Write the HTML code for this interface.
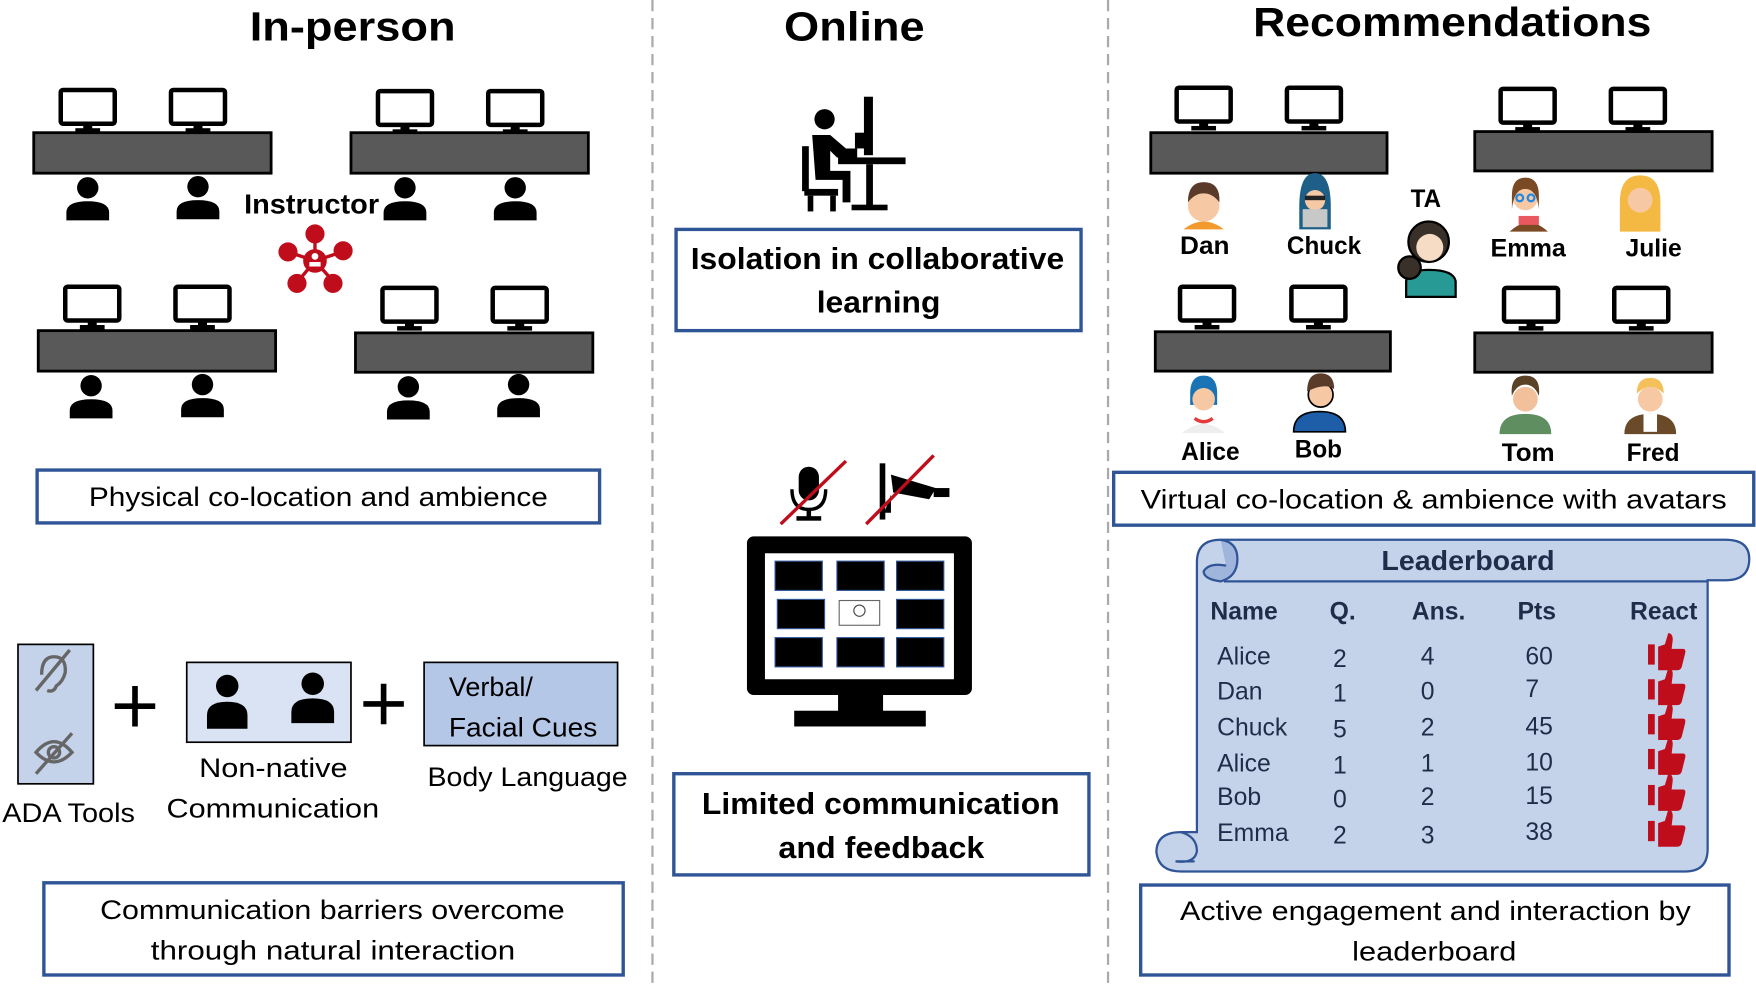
<!DOCTYPE html>
<html><head><meta charset="utf-8"><style>
html,body{margin:0;padding:0;background:#fff;}
svg{display:block;}
text{font-family:"Liberation Sans",sans-serif;fill:#000;}
</style></head><body>
<svg width="1756" height="984" viewBox="0 0 1561 875" preserveAspectRatio="none" xmlns="http://www.w3.org/2000/svg">
<defs>
<g id="mon">
<rect x="2" y="2" width="48" height="30" rx="2" fill="#fff" stroke="#000" stroke-width="4"/>
<rect x="22" y="32" width="8" height="5" fill="#000"/>
<rect x="15" y="36" width="22" height="4" fill="#000"/>
</g>
<g id="per">
<circle cx="0" cy="9" r="9.5" fill="#000"/>
<path d="M-19,38 L-19,31 Q-19,21 0,21 Q19,21 19,31 L19,38 Z" fill="#000"/>
</g>
</defs>

<!-- dividers -->
<line x1="580" y1="0" x2="580" y2="875" stroke="#aaa" stroke-width="2" stroke-dasharray="10,6"/>
<line x1="985" y1="0" x2="985" y2="875" stroke="#aaa" stroke-width="2" stroke-dasharray="10,6"/>

<!-- titles -->
<text x="222" y="36" font-size="36" font-weight="bold" textLength="183" lengthAdjust="spacingAndGlyphs">In-person</text>
<text x="697" y="36" font-size="36" font-weight="bold" textLength="125" lengthAdjust="spacingAndGlyphs">Online</text>
<text x="1114" y="32" font-size="36" font-weight="bold" textLength="354" lengthAdjust="spacingAndGlyphs">Recommendations</text>

<!-- In-person desks -->
<g>
<use href="#mon" x="52" y="78"/><use href="#mon" x="150" y="78"/>
<rect x="30" y="118" width="211" height="36" fill="#595959" stroke="#000" stroke-width="2.5"/>
<use href="#per" x="78" y="158"/><use href="#per" x="176" y="157"/>
<use href="#mon" x="334" y="79"/><use href="#mon" x="432" y="79"/>
<rect x="312" y="118" width="211" height="36" fill="#595959" stroke="#000" stroke-width="2.5"/>
<use href="#per" x="360" y="158"/><use href="#per" x="458" y="158"/>
<use href="#mon" x="56" y="253"/><use href="#mon" x="154" y="253"/>
<rect x="34" y="294" width="211" height="36" fill="#595959" stroke="#000" stroke-width="2.5"/>
<use href="#per" x="81" y="334"/><use href="#per" x="180" y="333"/>
<use href="#mon" x="338" y="254"/><use href="#mon" x="436" y="254"/>
<rect x="316" y="296" width="211" height="35" fill="#595959" stroke="#000" stroke-width="2.5"/>
<use href="#per" x="363" y="335"/><use href="#per" x="461" y="333"/>
</g>
<text x="217" y="190" font-size="25" font-weight="bold" textLength="120" lengthAdjust="spacingAndGlyphs">Instructor</text>
<!-- hub -->
<g stroke="#c00d1b" stroke-width="3" fill="#c00d1b">
<line x1="280" y1="232" x2="280" y2="208"/><line x1="280" y1="232" x2="256" y2="224"/><line x1="280" y1="232" x2="304" y2="224"/>
<line x1="280" y1="232" x2="265" y2="250"/><line x1="280" y1="232" x2="296" y2="250"/>
<circle cx="280" cy="208" r="7"/><circle cx="256" cy="224" r="7"/><circle cx="305" cy="223" r="7"/>
<circle cx="264" cy="252" r="7"/><circle cx="296" cy="252" r="7"/>
<circle cx="280" cy="232" r="9" fill="#c00d1b"/>
</g>
<circle cx="280" cy="228" r="3" fill="#fff"/><rect x="275" y="233" width="10" height="4" fill="#fff"/>

<rect x="33" y="418" width="500" height="47" fill="#fff" stroke="#2f5597" stroke-width="3"/>
<text x="79" y="450" font-size="24" textLength="408" lengthAdjust="spacingAndGlyphs">Physical co-location and ambience</text>

<!-- ADA etc -->
<rect x="16" y="573" width="67" height="124" fill="#c5d3ea" stroke="#000" stroke-width="1.5"/>
<g stroke="#666" stroke-width="3" fill="none">
<path d="M37,600 Q37,584 48,584 Q59,584 58,598 Q56,606 50,610 Q48,616 42,614"/>
<line x1="32" y1="614" x2="62" y2="578"/>
<path d="M32,669 Q48,650 64,669 Q48,686 32,669 Z"/><circle cx="48" cy="669" r="5"/>
<line x1="32" y1="688" x2="64" y2="652"/>
</g>
<path d="M102,628 h36 M120,610 v36" stroke="#000" stroke-width="5"/>
<rect x="166" y="589" width="146" height="71" fill="#dae3f3" stroke="#000" stroke-width="1.5"/>
<g fill="#000">
<circle cx="202" cy="610" r="10"/><path d="M184,648 v-12 q0,-12 18,-12 q18,0 18,12 v12 z"/>
<circle cx="278" cy="608" r="10"/><path d="M259,643 v-10 q0,-12 19,-12 q19,0 19,12 v10 z"/>
</g>
<path d="M323,626 h36 M341,608 v36" stroke="#000" stroke-width="5"/>
<rect x="377" y="589" width="172" height="74" fill="#b4c7e7" stroke="#000" stroke-width="1.5"/>
<text x="399" y="619" font-size="24">Verbal/</text>
<text x="399" y="655" font-size="24" textLength="132" lengthAdjust="spacingAndGlyphs">Facial Cues</text>
<text x="2" y="731" font-size="24" textLength="118" lengthAdjust="spacingAndGlyphs">ADA Tools</text>
<text x="177" y="691" font-size="24" textLength="132" lengthAdjust="spacingAndGlyphs">Non-native</text>
<text x="148" y="727" font-size="24" textLength="189" lengthAdjust="spacingAndGlyphs">Communication</text>
<text x="380" y="699" font-size="24" textLength="178" lengthAdjust="spacingAndGlyphs">Body Language</text>

<rect x="39" y="785" width="515" height="82" fill="#fff" stroke="#2f5597" stroke-width="3"/>
<text x="89" y="817" font-size="24" textLength="413" lengthAdjust="spacingAndGlyphs">Communication barriers overcome</text>
<text x="134" y="853" font-size="24" textLength="324" lengthAdjust="spacingAndGlyphs">through natural interaction</text>

<!-- Online -->
<g fill="#000">
<circle cx="733" cy="106" r="9"/>
<rect x="768" y="86" width="8" height="52"/><rect x="760" y="118" width="12" height="14"/>
<rect x="745" y="140" width="60" height="6"/><rect x="770" y="146" width="6" height="40"/>
<rect x="757" y="182" width="32" height="5"/>
<path d="M722,120 h16 l14,12 h10 v8 h-18 l-6,-6 v18 h18 v28 h-7 v-20 h-24 z"/>
<rect x="713" y="130" width="6" height="40"/>
<rect x="715" y="168" width="30" height="6"/><rect x="718" y="174" width="5" height="14"/><rect x="738" y="174" width="5" height="14"/>
</g>
<rect x="601" y="204" width="360" height="90" fill="#fff" stroke="#2f5597" stroke-width="3"/>
<text x="614" y="239" font-size="27" font-weight="bold" textLength="332" lengthAdjust="spacingAndGlyphs">Isolation in collaborative</text>
<text x="726" y="278" font-size="27" font-weight="bold" textLength="110" lengthAdjust="spacingAndGlyphs">learning</text>

<!-- mic / cam -->
<g fill="#000">
<rect x="710" y="415" width="18" height="30" rx="9"/>
<path d="M704,435 q0,18 15,18 q15,0 15,-18" stroke="#000" stroke-width="3" fill="none"/>
<rect x="717" y="452" width="4" height="8"/><rect x="708" y="459" width="22" height="4"/>
<rect x="782" y="412" width="5" height="50"/>
<path d="M792,422 l40,12 l-6,10 l-32,-6 z"/><rect x="830" y="434" width="14" height="8"/>
<path d="M792,440 v16 h-6"/>
</g>
<line x1="694" y1="466" x2="752" y2="410" stroke="#c00d1b" stroke-width="3"/>
<line x1="770" y1="466" x2="830" y2="405" stroke="#c00d1b" stroke-width="3"/>
<!-- big monitor -->
<rect x="664" y="477" width="200" height="141" rx="6" fill="#000"/>
<rect x="680" y="492" width="168" height="112" fill="#fff"/>
<g fill="#000" stroke="#2f5597" stroke-width="1">
<rect x="689" y="499" width="42" height="26"/><rect x="744" y="499" width="42" height="26"/><rect x="797" y="499" width="42" height="26"/>
<rect x="691" y="533" width="42" height="26"/><rect x="797" y="533" width="42" height="26"/>
<rect x="689" y="567" width="42" height="26"/><rect x="744" y="567" width="42" height="26"/><rect x="797" y="567" width="42" height="26"/>
</g>
<rect x="746" y="534" width="36" height="22" fill="#fff" stroke="#666" stroke-width="1"/>
<circle cx="764" cy="543" r="5" fill="none" stroke="#444"/>
<rect x="745" y="618" width="40" height="16" fill="#000"/>
<rect x="706" y="632" width="117" height="14" fill="#000"/>
<rect x="599" y="688" width="369" height="90" fill="#fff" stroke="#2f5597" stroke-width="3"/>
<text x="624" y="724" font-size="27" font-weight="bold" textLength="318" lengthAdjust="spacingAndGlyphs">Limited communication</text>
<text x="692" y="763" font-size="27" font-weight="bold" textLength="183" lengthAdjust="spacingAndGlyphs">and feedback</text>

<!-- Recommendations desks -->
<use href="#mon" x="1044" y="76"/><use href="#mon" x="1142" y="76"/>
<rect x="1023" y="118" width="210" height="36" fill="#595959" stroke="#000" stroke-width="2.5"/>
<use href="#mon" x="1332" y="77"/><use href="#mon" x="1430" y="77"/>
<rect x="1311" y="117" width="211" height="35" fill="#595959" stroke="#000" stroke-width="2.5"/>
<use href="#mon" x="1047" y="253"/><use href="#mon" x="1146" y="253"/>
<rect x="1027" y="295" width="209" height="35" fill="#595959" stroke="#000" stroke-width="2.5"/>
<use href="#mon" x="1335" y="254"/><use href="#mon" x="1433" y="254"/>
<rect x="1311" y="296" width="211" height="35" fill="#595959" stroke="#000" stroke-width="2.5"/>

<!-- avatars -->
<!-- Dan -->
<path d="M1052,204 q18,-14 36,0 z" fill="#f39a2e"/>
<circle cx="1070" cy="183" r="14" fill="#f6c9a4"/><path d="M1056,180 q0,-18 14,-18 q15,0 14,18 q-6,-8 -14,-8 q-8,0 -14,8z" fill="#5a3a28"/>
<!-- Chuck -->
<path d="M1155,204 v-20 q0,-30 14,-30 q14,0 14,30 v20 z" fill="#1d5f86"/>
<circle cx="1169" cy="178" r="9" fill="#f6c9a4"/><rect x="1160" y="174" width="18" height="4" fill="#222"/>
<rect x="1158" y="186" width="22" height="16" fill="#c8c8c8"/>
<!-- TA -->
<circle cx="1270" cy="215" r="18" fill="#3a302a" stroke="#000" stroke-width="2"/>
<circle cx="1271" cy="220" r="12" fill="#f6dcc4"/>
<path d="M1250,264 v-14 q0,-10 20,-10 q22,0 24,10 v14 z" fill="#279a96" stroke="#000" stroke-width="2"/>
<circle cx="1253" cy="238" r="10" fill="#3a302a" stroke="#000" stroke-width="2"/>
<!-- Emma -->
<path d="M1342,206 q17,-16 34,0 z" fill="#7a4a24"/><rect x="1350" y="192" width="18" height="8" fill="#e9585f"/>
<circle cx="1356" cy="176" r="11" fill="#f6c9a4"/><path d="M1344,186 v-12 q0,-16 12,-16 q12,0 12,16 v12 q-2,-18 -12,-18 q-10,0 -12,18z" fill="#7a4a24"/>
<circle cx="1351" cy="176" r="3" fill="none" stroke="#1e88e5" stroke-width="2"/><circle cx="1361" cy="176" r="3" fill="none" stroke="#1e88e5" stroke-width="2"/>
<!-- Julie -->
<path d="M1440,206 v-26 q0,-24 18,-24 q18,0 18,24 v26 z" fill="#f4b942"/>
<circle cx="1458" cy="178" r="11" fill="#f6c9a4"/>
<!-- Alice -->
<path d="M1051,385 q19,-16 38,0 z" fill="#eee"/><path d="M1062,372 q8,6 16,0" stroke="#e23b3b" stroke-width="3" fill="none"/>
<path d="M1058,360 v-10 q0,-16 12,-16 q12,0 12,16 v10 z" fill="#1a73b5"/>
<circle cx="1070" cy="355" r="10" fill="#f6c9a4"/>
<!-- Bob -->
<path d="M1150,384 q0,-18 23,-18 q23,0 23,18 z" fill="#1e5ea8" stroke="#000" stroke-width="1.5"/>
<circle cx="1174" cy="351" r="11" fill="#f6c9a4" stroke="#000" stroke-width="1.5"/>
<path d="M1162,348 q0,-16 12,-16 q12,0 12,14 q-8,-6 -24,2z" fill="#5a3a28"/>
<!-- Tom -->
<path d="M1333,386 q0,-18 23,-18 q23,0 23,18 z" fill="#5f8f60"/>
<circle cx="1356" cy="355" r="11" fill="#f2c09a"/>
<path d="M1344,352 q-2,-18 12,-18 q14,0 12,18 q-4,-10 -12,-10 q-8,0 -12,10z" fill="#5a4226"/>
<!-- Fred -->
<path d="M1444,386 q0,-18 23,-18 q23,0 23,18 z" fill="#6b4a2a"/><rect x="1461" y="368" width="12" height="16" fill="#fff"/>
<circle cx="1467" cy="355" r="11" fill="#f6c9a4"/>
<path d="M1455,350 q0,-14 12,-14 q12,0 12,14 q-6,-6 -12,-6 q-6,0 -12,6z" fill="#f3c05a"/>

<g font-size="22" font-weight="bold">
<text x="1049" y="226" textLength="44" lengthAdjust="spacingAndGlyphs">Dan</text>
<text x="1144" y="226" textLength="66" lengthAdjust="spacingAndGlyphs">Chuck</text>
<text x="1254" y="184" textLength="27" lengthAdjust="spacingAndGlyphs">TA</text>
<text x="1325" y="228" textLength="67" lengthAdjust="spacingAndGlyphs">Emma</text>
<text x="1445" y="228" textLength="50" lengthAdjust="spacingAndGlyphs">Julie</text>
<text x="1050" y="409" textLength="52" lengthAdjust="spacingAndGlyphs">Alice</text>
<text x="1151" y="407" textLength="42" lengthAdjust="spacingAndGlyphs">Bob</text>
<text x="1335" y="410" textLength="47" lengthAdjust="spacingAndGlyphs">Tom</text>
<text x="1446" y="410" textLength="47" lengthAdjust="spacingAndGlyphs">Fred</text>
</g>

<rect x="990" y="420" width="569" height="47" fill="#fff" stroke="#2f5597" stroke-width="3"/>
<text x="1014" y="452" font-size="24" textLength="521" lengthAdjust="spacingAndGlyphs">Virtual co-location &amp; ambience with avatars</text>

<!-- leaderboard scroll -->
<path d="M1064,500 Q1064,480 1085,480 L1534,480 Q1555,480 1555,497 Q1555,516 1534,516 L1518,516 L1518,755 Q1518,775 1498,775 L1050,775 Q1030,775 1028,758 Q1028,740 1050,740 L1064,740 Z" fill="#c5d3ea" stroke="#2f5597" stroke-width="2"/>
<path d="M1085,480 Q1100,482 1100,497 Q1100,513 1085,517 Q1070,515 1070,508 Q1075,500 1090,503" fill="#9fb5dc" stroke="#2f5597" stroke-width="2"/>
<line x1="1088" y1="517" x2="1518" y2="517" stroke="#2f5597" stroke-width="2"/>
<path d="M1050,740 Q1064,744 1064,757 Q1062,768 1045,766 L1062,766" fill="none" stroke="#2f5597" stroke-width="2"/>
<text x="1228" y="507" font-size="25" font-weight="bold" fill="#1f2d4a" textLength="154" lengthAdjust="spacingAndGlyphs" style="fill:#1f2d4a">Leaderboard</text>
<g font-size="22" font-weight="bold" style="fill:#1f2d4a">
<text x="1076" y="551" style="fill:#1f2d4a">Name</text>
<text x="1182" y="551" style="fill:#1f2d4a">Q.</text>
<text x="1255" y="551" style="fill:#1f2d4a">Ans.</text>
<text x="1349" y="551" style="fill:#1f2d4a">Pts</text>
<text x="1449" y="551" style="fill:#1f2d4a">React</text>
</g>
<g font-size="22" style="fill:#1f2d4a">
<text x="1082" y="591" style="fill:#1f2d4a">Alice</text><text x="1185" y="593" style="fill:#1f2d4a">2</text><text x="1263" y="591" style="fill:#1f2d4a">4</text><text x="1356" y="591" style="fill:#1f2d4a">60</text>
<text x="1082" y="622" style="fill:#1f2d4a">Dan</text><text x="1185" y="624" style="fill:#1f2d4a">1</text><text x="1263" y="622" style="fill:#1f2d4a">0</text><text x="1356" y="620" style="fill:#1f2d4a">7</text>
<text x="1082" y="654" style="fill:#1f2d4a">Chuck</text><text x="1185" y="656" style="fill:#1f2d4a">5</text><text x="1263" y="654" style="fill:#1f2d4a">2</text><text x="1356" y="653" style="fill:#1f2d4a">45</text>
<text x="1082" y="686" style="fill:#1f2d4a">Alice</text><text x="1185" y="688" style="fill:#1f2d4a">1</text><text x="1263" y="686" style="fill:#1f2d4a">1</text><text x="1356" y="685" style="fill:#1f2d4a">10</text>
<text x="1082" y="716" style="fill:#1f2d4a">Bob</text><text x="1185" y="718" style="fill:#1f2d4a">0</text><text x="1263" y="716" style="fill:#1f2d4a">2</text><text x="1356" y="715" style="fill:#1f2d4a">15</text>
<text x="1082" y="748" style="fill:#1f2d4a">Emma</text><text x="1185" y="750" style="fill:#1f2d4a">2</text><text x="1263" y="750" style="fill:#1f2d4a">3</text><text x="1356" y="747" style="fill:#1f2d4a">38</text>
</g>
<g fill="#c00d1b">
<g transform="translate(1465,565)"><rect x="0" y="8" width="6" height="18"/><path d="M9,10 l6,-2 l3,-10 q4,0 4,6 l-1,8 h10 q3,0 2,4 l-3,12 q-1,3 -4,3 h-17 z"/></g>
<g transform="translate(1465,596)"><rect x="0" y="8" width="6" height="18"/><path d="M9,10 l6,-2 l3,-10 q4,0 4,6 l-1,8 h10 q3,0 2,4 l-3,12 q-1,3 -4,3 h-17 z"/></g>
<g transform="translate(1465,627)"><rect x="0" y="8" width="6" height="18"/><path d="M9,10 l6,-2 l3,-10 q4,0 4,6 l-1,8 h10 q3,0 2,4 l-3,12 q-1,3 -4,3 h-17 z"/></g>
<g transform="translate(1465,658)"><rect x="0" y="8" width="6" height="18"/><path d="M9,10 l6,-2 l3,-10 q4,0 4,6 l-1,8 h10 q3,0 2,4 l-3,12 q-1,3 -4,3 h-17 z"/></g>
<g transform="translate(1465,690)"><rect x="0" y="8" width="6" height="18"/><path d="M9,10 l6,-2 l3,-10 q4,0 4,6 l-1,8 h10 q3,0 2,4 l-3,12 q-1,3 -4,3 h-17 z"/></g>
<g transform="translate(1465,722)"><rect x="0" y="8" width="6" height="18"/><path d="M9,10 l6,-2 l3,-10 q4,0 4,6 l-1,8 h10 q3,0 2,4 l-3,12 q-1,3 -4,3 h-17 z"/></g>
</g>

<rect x="1014" y="787" width="523" height="80" fill="#fff" stroke="#2f5597" stroke-width="3"/>
<text x="1049" y="818" font-size="24" textLength="454" lengthAdjust="spacingAndGlyphs">Active engagement and interaction by</text>
<text x="1202" y="854" font-size="24" textLength="146" lengthAdjust="spacingAndGlyphs">leaderboard</text>
</svg>
</body></html>
